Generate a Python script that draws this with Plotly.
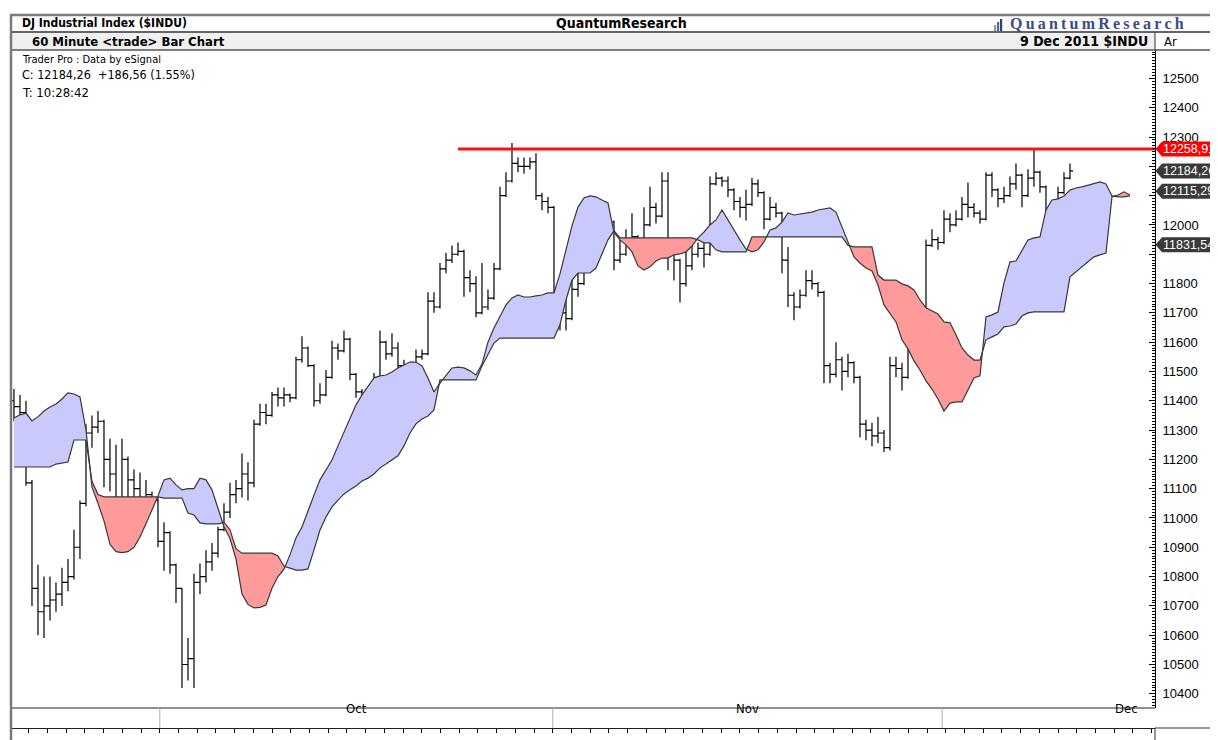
import numpy as np
import plotly.graph_objects as go

# ---------------- data ----------------
price_close = [11380, 11360, 11120, 10760, 10680, 10700, 10720, 10740, 10780, 10800,
               10900, 11050, 11290, 11310, 11330, 11200, 11150, 11060, 11200, 11130,
               11100, 11060, 11080, 11060, 10920, 10950, 10840, 10760, 10500, 10520,
               10780, 10800, 10850, 10880, 10960, 11020, 11080, 11100, 11150, 11120,
               11320, 11360, 11350, 11420, 11410, 11420, 11410, 11540, 11580, 11520,
               11400, 11420, 11480, 11580, 11570, 11610, 11490, 11430, 11400, 11330,
               11480, 11600, 11560, 11580, 11520, 11480, 11420, 11550, 11560, 11740,
               11720, 11850, 11880, 11900, 11910, 11820, 11800, 11700, 11720, 11750,
               11850, 12100, 12150, 12210, 12200, 12200, 12215, 12100, 12080, 12060,
               11760, 11700, 11680, 11780, 11800, 11950, 11920, 12000, 12040, 12010,
               11880, 11900, 11950, 11960, 11900, 12000, 12060, 12030, 12150, 11900,
               11880, 11800, 11860, 11900, 11920, 11900, 12140, 12160, 12150, 12120,
               12080, 12060, 12070, 12140, 12110, 12020, 12060, 12040, 11880, 11760,
               11720, 11760, 11810, 11800, 11770, 11520, 11490, 11540, 11500, 11530,
               11480, 11320, 11300, 11280, 11290, 11240, 11520, 11510, 11480, 11580,
               11590, 11560, 11930, 11950, 11940, 12020, 12000, 12020, 12070, 12060,
               12040, 12020, 12170, 12120, 12090, 12100, 12140, 12170, 12100, 12160,
               12180, 12130, 12040, 12000, 12110, 12160, 12184.26]
price_high = [11440, 11420, 11400, 11130, 10840, 10800, 10800, 10780, 10830, 10860,
              10960, 11060, 11320, 11350, 11365, 11335, 11270, 11250, 11270, 11210,
              11165, 11155, 11130, 11090, 11070, 10985, 10955, 10845, 10760, 10590,
              10810, 10845, 10890, 10915, 10970, 11050, 11120, 11130, 11220, 11190,
              11335, 11390, 11390, 11430, 11445, 11445, 11425, 11550, 11620, 11585,
              11525, 11460, 11505, 11605, 11595, 11640, 11615, 11495, 11440, 11410,
              11495, 11640, 11605, 11630, 11600, 11540, 11530, 11575, 11575, 11770,
              11770, 11870, 11905, 11930, 11940, 11915, 11845, 11825, 11870, 11780,
              11870, 12130, 12180, 12280, 12230, 12230, 12230, 12245, 12110, 12095,
              12065, 11800, 11770, 11870, 11870, 11985, 11985, 12040, 12060, 12060,
              12015, 11950, 11985, 12040, 11965, 12060, 12130, 12075, 12180, 12180,
              11950, 11885, 11915, 11950, 11940, 11960, 12165, 12180, 12165, 12165,
              12125, 12095, 12120, 12160, 12155, 12115, 12095, 12075, 12045, 11925,
              11770, 11780, 11845, 11845, 11805, 11775, 11530, 11600, 11550, 11560,
              11535, 11485, 11335, 11325, 11345, 11300, 11550, 11550, 11530, 11610,
              11620, 11600, 11950, 11985, 11960, 12050, 12040, 12050, 12095, 12145,
              12075, 12050, 12180, 12180, 12125, 12130, 12165, 12210, 12175, 12190,
              12258.91, 12185, 12135, 12075, 12130, 12180, 12210]
price_low = [11330, 11240, 11110, 10700, 10600, 10590, 10650, 10680, 10700, 10750,
             10790, 10860, 11040, 11240, 11290, 11105, 11090, 11000, 11000, 11070,
             11020, 10985, 11030, 11040, 10900, 10820, 10810, 10710, 10420, 10445,
             10420, 10740, 10780, 10820, 10865, 10955, 11000, 11050, 11070, 11060,
             11105, 11315, 11320, 11345, 11380, 11380, 11395, 11405, 11530, 11515,
             11380, 11390, 11415, 11475, 11540, 11565, 11470, 11410, 11370, 11290,
             11325, 11475, 11540, 11550, 11505, 11450, 11390, 11415, 11540, 11555,
             11700, 11715, 11835, 11870, 11895, 11755, 11770, 11685, 11695, 11710,
             11745, 11845, 12095, 12145, 12180, 12175, 12190, 12085, 12050, 12040,
             11700, 11640, 11640, 11675, 11755, 11795, 11870, 11915, 11990, 11985,
             11845, 11870, 11895, 11925, 11880, 11895, 11995, 12005, 12025, 11845,
             11810, 11735, 11790, 11845, 11890, 11855, 11895, 12135, 12130, 12095,
             12050, 12025, 12015, 12065, 12095, 11985, 12015, 12025, 11835, 11720,
             11675, 11715, 11755, 11780, 11755, 11460, 11460, 11480, 11435, 11480,
             11460, 11275, 11265, 11245, 11255, 11225, 11230, 11480, 11435, 11475,
             11550, 11530, 11550, 11925, 11915, 11935, 11975, 11995, 12015, 12025,
             12025, 12005, 12015, 12095, 12060, 12075, 12095, 12120, 12060, 12095,
             12130, 12110, 12025, 11965, 11995, 12105, 12155]
first_open = 11400

span_a = [11341, 11352, 11358, 11331, 11345, 11365, 11379, 11389, 11406, 11427,
          11423, 11413, 11300, 11105, 11050, 10990, 10910, 10885, 10882, 10885,
          10900, 10935, 10980, 11025, 11075, 11130, 11136, 11113, 11096, 11100,
          11100, 11136, 11130, 11096, 11035, 10970, 10930, 10860, 10740, 10705,
          10693, 10695, 10703, 10760, 10800, 10825, 10874, 10932, 10969, 11027,
          11078, 11130, 11164, 11198, 11246, 11293, 11341, 11386, 11420, 11447,
          11478, 11485, 11488, 11498, 11512, 11522, 11532, 11532, 11519, 11478,
          11430, 11460, 11488, 11512, 11515, 11512, 11502, 11488, 11525, 11600,
          11648, 11686, 11727, 11751, 11761, 11754, 11754, 11758, 11761, 11768,
          11768, 11833, 11915, 11997, 12061, 12092, 12099, 12096, 12085, 12075,
          11975, 11949, 11932, 11908, 11860, 11846, 11857, 11877, 11887, 11887,
          11898, 11901, 11908, 11928, 11956, 11976, 12000, 12017, 12051, 12017,
          11980, 11949, 11918, 11908, 11915, 11942, 11983, 11990, 12010, 12041,
          12034, 12038, 12041, 12044, 12051, 12055, 12058, 12044, 11993, 11940,
          11891, 11870, 11853, 11843, 11795, 11727, 11700, 11669, 11608, 11577,
          11536, 11505, 11468, 11440, 11406, 11365, 11392, 11396, 11396, 11437,
          11478, 11485, 11686, 11693, 11703, 11802, 11874, 11877, 11915, 11949,
          11956, 11959, 12051, 12085, 12089, 12099, 12119, 12126, 12130, 12136,
          12143, 12147, 12140, 12099, 12096, 12096, 12099]
span_b = [11174, 11174, 11174, 11174, 11174, 11174, 11174, 11184, 11188, 11191,
          11266, 11266, 11266, 11125, 11080, 11072, 11072, 11072, 11072, 11072,
          11072, 11072, 11072, 11072, 11072, 11068, 11068, 11068, 11068, 11017,
          11010, 10983, 10980, 10980, 10980, 10985, 10960, 10895, 10880, 10880,
          10880, 10880, 10880, 10880, 10870, 10835, 10829, 10822, 10822, 10826,
          10891, 10959, 11003, 11038, 11061, 11082, 11096, 11109, 11126, 11136,
          11150, 11171, 11184, 11198, 11212, 11246, 11290, 11321, 11338, 11348,
          11369, 11471, 11471, 11471, 11471, 11471, 11471, 11471, 11519, 11556,
          11597, 11614, 11614, 11614, 11614, 11614, 11614, 11614, 11614, 11614,
          11614, 11659, 11744, 11812, 11836, 11836, 11836, 11853, 11898, 11949,
          11980, 11956, 11956, 11956, 11956, 11956, 11956, 11956, 11956, 11956,
          11956, 11956, 11956, 11956, 11949, 11939, 11939, 11915, 11908, 11908,
          11908, 11908, 11908, 11959, 11959, 11959, 11959, 11959, 11959, 11959,
          11959, 11959, 11959, 11959, 11959, 11959, 11959, 11959, 11959, 11930,
          11925, 11925, 11925, 11925, 11829, 11812, 11812, 11812, 11799, 11792,
          11778, 11744, 11717, 11706, 11696, 11669, 11666, 11625, 11580, 11556,
          11539, 11539, 11608, 11618, 11628, 11652, 11655, 11662, 11689, 11700,
          11703, 11703, 11703, 11703, 11703, 11703, 11823, 11840, 11857, 11874,
          11891, 11898, 11904, 12096, 12102, 12113, 12102]

month_names = ["Oct", "Nov", "Dec"]
month_start_bar = [24.3, 89.8, 154.7]       # bar position where each month begins
y_tick_values = list(range(10400, 12600, 100))
y_ticks_hidden_by_tags = [12200, 12100, 11900]
resistance_level = 12258.91
resistance_start_bar = 74
price_tags = [("12258,91", 12258.91, "#ff0000"),
              ("12184,26", 12184.26, "#3a3a3a"),
              ("12115,29", 12115.29, "#3a3a3a"),
              ("11831,54", 11932.0, "#3a3a3a")]
x_min, x_max = -0.33, 190.17
y_min, y_max = 10351.5, 12597.0

# ---------------- geometry (page pixels; page has an 8px body margin) ----------------
OFF = 8
FW, FH = 1218 - OFF, 740 - OFF
PL, PR, PT, PB = 12, 1155, 50, 728   # plot box (page px) incl. month band
def X(px): return (px - PL) / (PR - PL)
def Y(py): return (PB - py) / (PB - PT)
band_top = Y(708)

NARROW = "Liberation Sans Narrow, Arial Narrow, DejaVu Sans Condensed, sans-serif"
REG = "Liberation Sans, Arial, sans-serif"

fig = go.Figure()

# ---------------- Ichimoku cloud ----------------
A = np.array(span_a, float)
B = np.array(span_b, float)
xs, As, Bs = [0.0], [A[0]], [B[0]]
for k in range(1, len(A)):
    d0, d1 = A[k-1] - B[k-1], A[k] - B[k]
    if d0 * d1 < 0:
        t = d0 / (d0 - d1)
        yc = A[k-1] + t * (A[k] - A[k-1])
        xs.append(k - 1 + t); As.append(yc); Bs.append(yc)
    xs.append(float(k)); As.append(A[k]); Bs.append(B[k])
xs = np.array(xs); As = np.array(As); Bs = np.array(Bs)

fig.add_trace(go.Scatter(x=xs, y=Bs, mode="lines", line=dict(width=0), hoverinfo="skip"))
fig.add_trace(go.Scatter(x=xs, y=np.maximum(As, Bs), mode="lines", line=dict(width=0),
                         fill="tonexty", fillcolor="#c9c9fb", hoverinfo="skip"))
fig.add_trace(go.Scatter(x=xs, y=Bs, mode="lines", line=dict(width=0), hoverinfo="skip"))
fig.add_trace(go.Scatter(x=xs, y=np.minimum(As, Bs), mode="lines", line=dict(width=0),
                         fill="tonexty", fillcolor="#ff9a9a", hoverinfo="skip"))
fig.add_trace(go.Scatter(x=np.arange(len(A)), y=A, mode="lines",
                         line=dict(color="#383838", width=1.2)))
fig.add_trace(go.Scatter(x=np.arange(len(B)), y=B, mode="lines",
                         line=dict(color="#383838", width=1.2)))

# ---------------- price bars ----------------
n = len(price_close)
opens = [first_open] + price_close[:-1]
fig.add_trace(go.Ohlc(x=np.arange(n), open=opens, high=price_high, low=price_low,
                      close=price_close, tickwidth=0.5,
                      increasing=dict(line=dict(color="black", width=1.2)),
                      decreasing=dict(line=dict(color="black", width=1.2))))

# resistance line
fig.add_trace(go.Scatter(x=[resistance_start_bar, x_max], y=[resistance_level] * 2,
                         mode="lines", line=dict(color="#ff1010", width=3), cliponaxis=False))

# ---------------- layout ----------------
ticktext = ["" if v in y_ticks_hidden_by_tags else str(v) for v in y_tick_values]
fig.update_layout(
    width=FW, height=FH, showlegend=False,
    margin=dict(l=PL - OFF, r=FW - (PR - OFF), t=PT - OFF, b=FH - (PB - OFF)),
    paper_bgcolor="white", plot_bgcolor="white",
    xaxis=dict(range=[x_min, x_max], showgrid=False, zeroline=False, showticklabels=False,
               ticks="outside", ticklen=4, tickcolor="#000", tickwidth=1,
               tick0=month_start_bar[0], dtick=(month_start_bar[1] - month_start_bar[0]) / 21,
               showline=True, linecolor="#222", linewidth=1, anchor="free", position=0,
               rangeslider=dict(visible=False), fixedrange=True),
    yaxis=dict(range=[y_min, y_max], domain=[band_top, 1], side="right", showgrid=False,
               zeroline=False, tickmode="array", tickvals=y_tick_values, ticktext=ticktext,
               ticks="inside", ticklen=6,
               tickcolor="#000", showline=True, linecolor="#000", linewidth=1,
               tickfont=dict(family=REG, size=13, color="#000"), ticklabelstandoff=4,
               minor=dict(ticks="inside", ticklen=3, dtick=10, tick0=0, tickcolor="#000"),
               anchor="x"),
)

shapes = []
anns = []
# month band
shapes.append(dict(type="line", xref="paper", yref="paper", x0=0, x1=1, y0=band_top, y1=band_top,
                   line=dict(color="#222", width=1)))
for mb in month_start_bar:
    shapes.append(dict(type="line", xref="x", yref="paper", x0=mb, x1=mb, y0=0, y1=band_top,
                       line=dict(color="#b0b0b0", width=1)))
bounds = month_start_bar + [x_max]
for i, name in enumerate(month_names):
    if i < len(month_names) - 1:
        anns.append(dict(x=(bounds[i] + bounds[i + 1]) / 2, y=band_top / 2, xref="x", yref="paper",
                         text=name, showarrow=False, font=dict(family=NARROW, size=13, color="#000")))
    else:
        anns.append(dict(x=bounds[i + 1] - 2.5, y=band_top / 2, xref="x", yref="paper",
                         xanchor="right", text=name, showarrow=False,
                         font=dict(family=NARROW, size=13, color="#000")))

# frame / header
shapes += [
    dict(type="rect", xref="paper", yref="paper", x0=X(12), x1=X(1155), y0=Y(50), y1=Y(32.5),
         fillcolor="#f0f0f0", line=dict(width=0), layer="below"),
    dict(type="line", xref="paper", yref="paper", x0=X(10), x1=X(1218), y0=Y(15), y1=Y(15),
         line=dict(color="#7a7a7a", width=2.5)),
    dict(type="line", xref="paper", yref="paper", x0=X(10), x1=X(1218), y0=Y(32), y1=Y(32),
         line=dict(color="#333", width=1.5)),
    dict(type="line", xref="paper", yref="paper", x0=X(10), x1=X(1218), y0=Y(50), y1=Y(50),
         line=dict(color="#555", width=1.5)),
    dict(type="line", xref="paper", yref="paper", x0=X(11), x1=X(11), y0=Y(740), y1=Y(15),
         line=dict(color="#7a7a7a", width=2.5)),
    dict(type="line", xref="paper", yref="paper", x0=1, x1=1, y0=Y(32), y1=Y(50),
         line=dict(color="#333", width=1)),
    dict(type="line", xref="paper", yref="paper", x0=1, x1=1, y0=Y(740), y1=0,
         line=dict(color="#333", width=1)),
    dict(type="line", xref="paper", yref="paper", x0=X(1155), x1=X(1218), y0=0, y1=0,
         line=dict(color="#333", width=1)),
]
# logo icon bars
for bx, bh, col in [(994, 6, "#8a9ab8"), (997, 9, "#5a6a98"), (1000, 12, "#2f4178")]:
    shapes.append(dict(type="rect", xref="paper", yref="paper", x0=X(bx), x1=X(bx + 2.2),
                       y0=Y(31), y1=Y(31 - bh), fillcolor=col, line=dict(width=0)))

logo = "\u2009".join("QuantumResearch")
anns += [
    dict(x=X(20), y=Y(23.5), xref="paper", yref="paper", xanchor="left", yanchor="middle",
         text="<b>DJ Industrial Index ($INDU)</b>", showarrow=False,
         font=dict(family=NARROW, size=12, color="#000")),
    dict(x=X(621), y=Y(23.5), xref="paper", yref="paper", xanchor="center", yanchor="middle",
         text="<b>QuantumResearch</b>", showarrow=False,
         font=dict(family=NARROW, size=14, color="#000")),
    dict(x=X(1008), y=Y(23.5), xref="paper", yref="paper", xanchor="left", yanchor="middle",
         text="<b>" + logo + "</b>", showarrow=False,
         font=dict(family="Liberation Serif, DejaVu Serif, serif", size=16, color="#3b4c85")),
    dict(x=X(30), y=Y(41.5), xref="paper", yref="paper", xanchor="left", yanchor="middle",
         text="<b>60 Minute &lt;trade&gt; Bar Chart</b>", showarrow=False,
         font=dict(family=NARROW, size=13, color="#000")),
    dict(x=X(1150), y=Y(41.5), xref="paper", yref="paper", xanchor="right", yanchor="middle",
         text="<b>9 Dec 2011 $INDU</b>", showarrow=False,
         font=dict(family=NARROW, size=14, color="#000")),
    dict(x=X(1162), y=Y(41.5), xref="paper", yref="paper", xanchor="left", yanchor="middle",
         text="Ar", showarrow=False, font=dict(family=NARROW, size=13, color="#000")),
    dict(x=X(20), y=Y(60), xref="paper", yref="paper", xanchor="left", yanchor="middle",
         text="Trader Pro : Data by eSignal", showarrow=False,
         font=dict(family=NARROW, size=11, color="#000")),
    dict(x=X(20), y=Y(74.5), xref="paper", yref="paper", xanchor="left", yanchor="middle",
         text="C: 12184,26  +186,56 (1.55%)", showarrow=False,
         font=dict(family=NARROW, size=12.5, color="#000")),
    dict(x=X(20), y=Y(92.5), xref="paper", yref="paper", xanchor="left", yanchor="middle",
         text="T: 10:28:42", showarrow=False,
         font=dict(family=NARROW, size=13, color="#000")),
]

# price tags on the right axis
px_per_unit = (708 - 50) / (y_max - y_min)
for txt, val, col in price_tags:
    dy = 7.5 / px_per_unit
    shapes.append(dict(type="path", xref="paper", yref="y",
                       path=f"M {X(1155.5)},{val} L {X(1162)},{val + dy} L {X(1220)},{val + dy} "
                            f"L {X(1220)},{val - dy} L {X(1162)},{val - dy} Z",
                       fillcolor=col, line=dict(width=0)))
    anns.append(dict(x=X(1161), y=val, xref="paper", yref="y", xanchor="left", yanchor="middle",
                     text=txt, showarrow=False,
                     font=dict(family=REG, size=12.5, color="white")))

fig.update_layout(shapes=shapes, annotations=anns)
fig.write_html("out.html")
